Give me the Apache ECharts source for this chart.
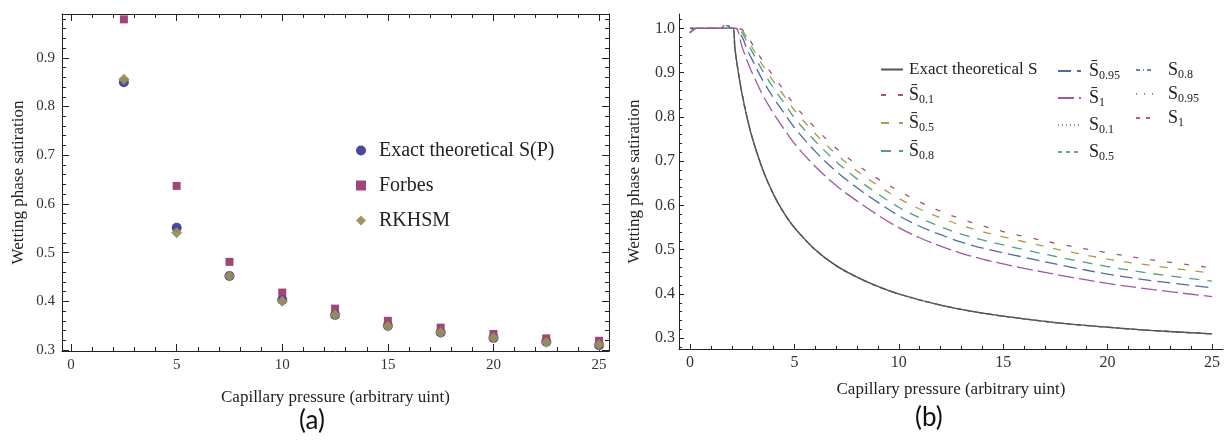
<!DOCTYPE html>
<html>
<head>
<meta charset="utf-8">
<script src="https://cdn.jsdelivr.net/npm/echarts@6/dist/echarts.min.js"></script>
<style>
  html, body { margin: 0; padding: 0; background: #ffffff; }
  #chart { width: 1225px; height: 443px; }
</style>
</head>
<body>
<div id="chart"></div>
<script>
// ---------- Panel (a) data ----------
const pressureA = [2.5, 5, 7.5, 10, 12.5, 15, 17.5, 20, 22.5, 25];
const exactA    = [0.850, 0.551, 0.452, 0.403, 0.372, 0.350, 0.336, 0.325, 0.317, 0.310];
const forbesA   = [0.979, 0.637, 0.481, 0.418, 0.385, 0.360, 0.346, 0.333, 0.324, 0.319];
const rkhsmA    = [0.856, 0.541, 0.452, 0.400, 0.372, 0.349, 0.336, 0.325, 0.316, 0.311];

// ---------- Panel (b) data ----------
const exactX = [0, 0.5, 1, 1.5, 2.05, 2.15, 2.3, 2.5, 2.75, 3, 3.5, 4, 4.5, 5, 6, 7, 8, 9, 10, 12, 14, 16, 18, 20, 22, 25];
const exactY = [1.0, 1.0, 1.0, 1.0, 1.0, 0.955, 0.905, 0.850, 0.795, 0.750, 0.679, 0.625, 0.583, 0.550, 0.500, 0.464, 0.438, 0.417, 0.400, 0.375, 0.357, 0.344, 0.333, 0.325, 0.318, 0.310];
// the S approximations lie on top of the exact curve in the picture
const sApproxY = exactY;

const barX    = [0, 0.3, 1.0, 1.45, 1.75, 2.0, 2.2, 2.5, 2.75, 3, 3.5, 4, 4.5, 5, 6, 7, 8, 9, 10, 11, 12, 13, 14, 15, 16, 18, 20, 22, 25];
const sBar01  = [0.99, 1.0, 1.0, 1.0, 1.0, 1.0, 1.0, 0.997, 0.983, 0.963, 0.925, 0.892, 0.860, 0.827, 0.775, 0.729, 0.692, 0.660, 0.633, 0.608, 0.587, 0.569, 0.554, 0.541, 0.530, 0.510, 0.493, 0.478, 0.459];
const sBar05  = [0.99, 1.0, 1.0, 1.0, 1.0, 1.0, 1.0, 0.995, 0.976, 0.955, 0.915, 0.880, 0.848, 0.815, 0.762, 0.716, 0.678, 0.645, 0.616, 0.592, 0.572, 0.555, 0.541, 0.529, 0.518, 0.497, 0.479, 0.465, 0.447];
const sBar08  = [0.99, 1.0, 1.0, 1.0, 1.0, 1.0, 1.0, 0.990, 0.967, 0.945, 0.902, 0.865, 0.832, 0.798, 0.745, 0.699, 0.660, 0.626, 0.596, 0.572, 0.552, 0.535, 0.522, 0.511, 0.500, 0.480, 0.462, 0.447, 0.429];
const sBar095 = [0.99, 1.0, 1.0, 1.0, 1.006, 1.0, 1.0, 0.980, 0.951, 0.927, 0.881, 0.843, 0.809, 0.776, 0.722, 0.677, 0.640, 0.607, 0.577, 0.553, 0.534, 0.517, 0.504, 0.493, 0.483, 0.463, 0.445, 0.431, 0.414];
const sBar1   = [0.99, 1.0, 1.0, 1.0, 1.010, 1.0, 1.0, 0.957, 0.925, 0.897, 0.848, 0.808, 0.773, 0.740, 0.688, 0.645, 0.610, 0.578, 0.550, 0.527, 0.508, 0.492, 0.479, 0.468, 0.458, 0.440, 0.424, 0.411, 0.394];

// ---------- tick labels ----------
const xTicks  = [0, 5, 10, 15, 20, 25];
const yTicksA = [0.3, 0.4, 0.5, 0.6, 0.7, 0.8, 0.9];
const yTicksB = [0.3, 0.4, 0.5, 0.6, 0.7, 0.8, 0.9, 1.0];

const xTitle = 'Capillary pressure (arbitrary uint)';
const yTitle = 'Wetting phase satiration';

function minorList(start, end, step, majorStep) {
  const out = [];
  const n = Math.round((end - start) / step);
  for (let i = 0; i <= n; i++) {
    const v = +(start + i * step).toFixed(4);
    const r = v / majorStep;
    if (Math.abs(r - Math.round(r)) > 1e-6) out.push(v);
  }
  return out;
}
const xMinor  = minorList(0, 25, 1, 5);
const yMinorA = minorList(0.30, 0.98, 0.02, 0.1);
const yMinorB = minorList(0.28, 1.02, 0.02, 0.1);

const zip = (xs, ys) => xs.map((x, i) => [x, ys[i]]);
const serif = "'Liberation Serif', 'Times New Roman', serif";
const ink = '#222';

function axis(o) {
  const a = {
    type: 'value', gridIndex: o.grid, min: o.min, max: o.max, position: o.pos,
    splitLine: { show: false },
    axisLine: { show: o.line !== false, onZero: false, lineStyle: { color: ink, width: 1 } },
    axisTick: { show: true, inside: true, length: o.tickLen, customValues: o.ticks, lineStyle: { color: ink, width: 1 } },
    axisLabel: o.labels ? {
      show: true, customValues: o.labels, margin: o.margin, fontSize: o.fontSize,
      fontFamily: serif, color: '#333', formatter: o.fmt
    } : { show: false }
  };
  if (o.name) {
    a.name = o.name; a.nameLocation = 'middle'; a.nameGap = o.nameGap;
    a.nameTextStyle = { fontFamily: serif, fontSize: 17, color: ink };
  }
  return a;
}

const legendRich = {
  t:   { fontFamily: serif, fontSize: 17, lineHeight: 22, color: ink },
  s:   { fontFamily: serif, fontSize: 18, lineHeight: 22, color: ink },
  sub: { fontFamily: serif, fontSize: 12, lineHeight: 12, verticalAlign: 'bottom', color: ink }
};
function legendFmt(name) {
  if (name.indexOf('Sbar_') === 0) return '{s|S\u0304}{sub|' + name.slice(5) + '}';
  if (name.indexOf('S_') === 0) return '{s|S}{sub|' + name.slice(2) + '}';
  return '{t|' + name + '}';
}

function lineSeries(name, xs, ys, color, dash, width) {
  return {
    type: 'line', name: name, xAxisIndex: 4, yAxisIndex: 4,
    data: zip(xs, ys), symbol: 'none', smooth: 0.35,
    lineStyle: { color: color, width: width || 1.3, type: dash },
    itemStyle: { color: color }, z: 3
  };
}

const hiddenSymbol = { opacity: 0 };

const option = {
  animation: false,
  backgroundColor: '#ffffff',
  grid: [
    { left: 62, top: 14, width: 547, height: 337 },
    { left: 679, top: 14, width: 544, height: 335 }
  ],
  xAxis: [
    axis({ grid: 0, min: -0.43, max: 25.47, pos: 'bottom', tickLen: 7, ticks: xTicks, labels: xTicks, margin: 7, fontSize: 15, name: xTitle, nameGap: 38 }),
    axis({ grid: 0, min: -0.43, max: 25.47, pos: 'bottom', line: false, tickLen: 4, ticks: xMinor }),
    axis({ grid: 0, min: -0.43, max: 25.47, pos: 'top', tickLen: 7, ticks: xTicks }),
    axis({ grid: 0, min: -0.43, max: 25.47, pos: 'top', line: false, tickLen: 4, ticks: xMinor }),
    axis({ grid: 1, min: -0.527, max: 25.53, pos: 'bottom', tickLen: 5, ticks: xTicks, labels: xTicks, margin: 6, fontSize: 16, name: xTitle, nameGap: 32 }),
    axis({ grid: 1, min: -0.527, max: 25.53, pos: 'bottom', line: false, tickLen: 3, ticks: xMinor })
  ],
  yAxis: [
    axis({ grid: 0, min: 0.298, max: 0.99, pos: 'left', tickLen: 7, ticks: yTicksA, labels: yTicksA, margin: 7, fontSize: 15, name: yTitle, nameGap: 35 }),
    axis({ grid: 0, min: 0.298, max: 0.99, pos: 'left', line: false, tickLen: 4, ticks: yMinorA }),
    axis({ grid: 0, min: 0.298, max: 0.99, pos: 'right', tickLen: 7, ticks: yTicksA }),
    axis({ grid: 0, min: 0.298, max: 0.99, pos: 'right', line: false, tickLen: 4, ticks: yMinorA }),
    axis({ grid: 1, min: 0.2758, max: 1.0323, pos: 'left', tickLen: 5, ticks: yTicksB, labels: yTicksB, margin: 4, fontSize: 16, fmt: v => Number(v).toFixed(1), name: yTitle, nameGap: 36 }),
    axis({ grid: 1, min: 0.2758, max: 1.0323, pos: 'left', line: false, tickLen: 3, ticks: yMinorB })
  ],
  legend: [
    {
      data: ['Exact theoretical S(P)', 'Forbes', 'RKHSM'],
      orient: 'vertical', left: 351, top: 134, itemWidth: 10, itemHeight: 10, itemGap: 12,
      textStyle: { fontFamily: serif, fontSize: 20, lineHeight: 23, color: ink, padding: [0, 0, 0, 8] },
      selectedMode: false
    },
    {
      data: ['Exact theoretical S', 'Sbar_0.1', 'Sbar_0.5', 'Sbar_0.8'],
      orient: 'vertical', left: 875, top: 56, itemWidth: 22, itemHeight: 10, itemGap: 8,
      itemStyle: hiddenSymbol,
      formatter: legendFmt, textStyle: { rich: legendRich, padding: [0, 0, 0, 1] }, selectedMode: false
    },
    {
      data: ['Sbar_0.95', 'Sbar_1', 'S_0.1', 'S_0.5'],
      orient: 'vertical', left: 1052, top: 57, itemWidth: 23, itemHeight: 10, itemGap: 7,
      itemStyle: hiddenSymbol,
      formatter: legendFmt, textStyle: { rich: legendRich, padding: [0, 0, 0, 3] }, selectedMode: false
    },
    {
      data: ['S_0.8', 'S_0.95', 'S_1'],
      orient: 'vertical', left: 1130, top: 56, itemWidth: 18, itemHeight: 10, itemGap: 4,
      itemStyle: hiddenSymbol,
      formatter: legendFmt, textStyle: { rich: legendRich, padding: [0, 0, 0, 9] }, selectedMode: false
    }
  ],
  series: [
    { type: 'scatter', name: 'Exact theoretical S(P)', xAxisIndex: 0, yAxisIndex: 0, data: zip(pressureA, exactA),
      symbol: 'circle', symbolSize: 10, itemStyle: { color: '#3f3d99', opacity: 0.95 }, z: 3 },
    { type: 'scatter', name: 'Forbes', xAxisIndex: 0, yAxisIndex: 0, data: zip(pressureA, forbesA),
      symbol: 'rect', symbolSize: 8, itemStyle: { color: '#993d71', opacity: 0.95 }, z: 4 },
    { type: 'scatter', name: 'RKHSM', xAxisIndex: 0, yAxisIndex: 0, data: zip(pressureA, rkhsmA),
      symbol: 'diamond', symbolSize: 11, itemStyle: { color: '#9a9058', opacity: 0.95 }, z: 5 },

    lineSeries('S_0.1',  exactX, sApproxY, '#7f8fb0', [1, 3], 1.3),
    lineSeries('S_0.5',  exactX, sApproxY, '#6aa584', [4, 4], 1.3),
    lineSeries('S_0.8',  exactX, sApproxY, '#6583b0', [4, 3, 1, 3], 1.3),
    lineSeries('S_0.95', exactX, sApproxY, '#8c8c8c', [1, 7], 1.3),
    lineSeries('S_1',    exactX, sApproxY, '#c0587e', [4, 6], 1.3),
    lineSeries('Exact theoretical S', exactX, exactY, '#4d5753', 'solid', 1.3),
    lineSeries('Sbar_0.1',  barX, sBar01,  '#a94f7c', [5, 12]),
    lineSeries('Sbar_0.5',  barX, sBar05,  '#a99c4e', [8, 10]),
    lineSeries('Sbar_0.8',  barX, sBar08,  '#4f9f80', [10, 8]),
    lineSeries('Sbar_0.95', barX, sBar095, '#5068a8', [13, 6]),
    lineSeries('Sbar_1',    barX, sBar1,   '#a356a6', [16, 5])
  ],
  graphic: [
    { type: 'text', left: 299, top: 408, style: { text: '(a)', fontFamily: "Lato, 'Open Sans', sans-serif", fontSize: 26, fill: '#111' } },
    { type: 'text', left: 915, top: 405, style: { text: '(b)', fontFamily: "Lato, 'Open Sans', sans-serif", fontSize: 26, fill: '#111' } }
  ]
};

const chart = echarts.init(document.getElementById('chart'), null, { renderer: 'canvas' });
chart.setOption(option);
</script>
</body>
</html>
